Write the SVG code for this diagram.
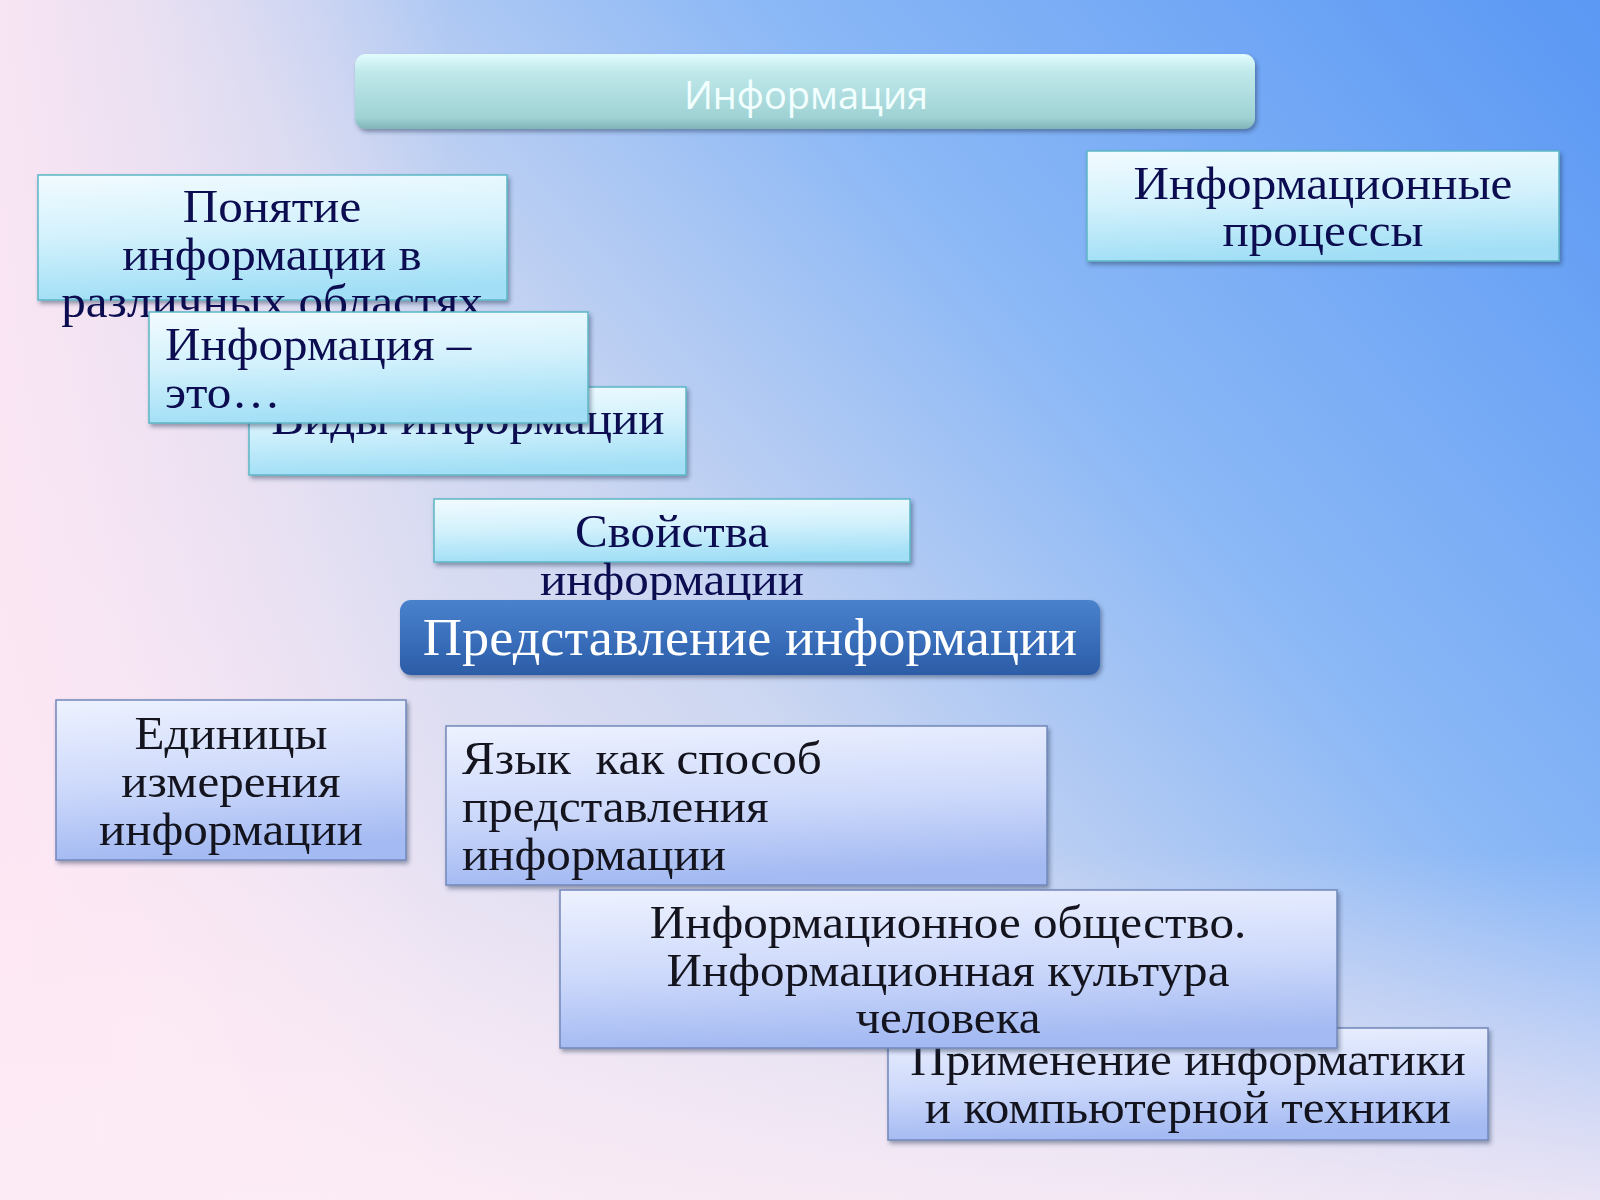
<svg xmlns="http://www.w3.org/2000/svg" width="1600" height="1200" viewBox="0 0 1600 1200">
<defs>
<linearGradient id="bg" gradientUnits="userSpaceOnUse" x1="1600" y1="0" x2="250" y2="1150">
<stop offset="0" stop-color="#5a98f4"/>
<stop offset="0.36" stop-color="#8bb8f6"/>
<stop offset="0.62" stop-color="#cdd7f1"/>
<stop offset="1" stop-color="#fbeaf5"/>
</linearGradient>
<linearGradient id="bgLeft" gradientUnits="userSpaceOnUse" x1="0" y1="0" x2="450" y2="0">
<stop offset="0" stop-color="#fde6f3" stop-opacity="0.85"/>
<stop offset="1" stop-color="#fde6f3" stop-opacity="0"/>
</linearGradient>
<linearGradient id="bgBottom" gradientUnits="userSpaceOnUse" x1="0" y1="1200" x2="0" y2="850">
<stop offset="0" stop-color="#fcecf5" stop-opacity="0.8"/>
<stop offset="1" stop-color="#fcecf5" stop-opacity="0"/>
</linearGradient>
<linearGradient id="cyan" x1="0" y1="0" x2="0.15" y2="1">
<stop offset="0" stop-color="#f2fbff"/>
<stop offset="0.5" stop-color="#d2f1fc"/>
<stop offset="1" stop-color="#a2dff6"/>
</linearGradient>
<linearGradient id="lav" x1="0" y1="0" x2="0.15" y2="1">
<stop offset="0" stop-color="#eef2ff"/>
<stop offset="0.55" stop-color="#cdd9fb"/>
<stop offset="1" stop-color="#a4baf2"/>
</linearGradient>
<linearGradient id="teal" x1="0" y1="0" x2="0" y2="1">
<stop offset="0" stop-color="#e2fcfc"/>
<stop offset="0.25" stop-color="#bfe8ea"/>
<stop offset="0.85" stop-color="#9fd2d4"/>
<stop offset="1" stop-color="#7fb4b8"/>
</linearGradient>
<linearGradient id="blue" x1="0" y1="0" x2="0" y2="1">
<stop offset="0" stop-color="#4a82cc"/>
<stop offset="0.5" stop-color="#3a6fbc"/>
<stop offset="1" stop-color="#2c5ca6"/>
</linearGradient>
<filter id="sh" x="-5%" y="-10%" width="115%" height="130%">
<feDropShadow dx="2" dy="3" stdDeviation="2" flood-color="#223355" flood-opacity="0.45"/>
</filter>
<style>
.cbox{fill:url(#cyan);stroke:#5cb6c6;stroke-width:1.5;filter:url(#sh)}
.lbox{fill:url(#lav);stroke:#7188ba;stroke-width:1.5;filter:url(#sh)}
.t{font-family:"Liberation Serif","DejaVu Serif",serif;font-size:47px}
.tn{fill:#0c0c50}
.tk{fill:#14141e}
.c{text-anchor:middle}
</style>
</defs>

<rect x="0" y="0" width="1600" height="1200" fill="url(#bg)"/>
<rect x="0" y="0" width="1600" height="1200" fill="url(#bgLeft)"/>
<rect x="0" y="0" width="1600" height="1200" fill="url(#bgBottom)"/>

<g id="title">
<rect x="355" y="54" width="900" height="75" rx="11" fill="url(#teal)" filter="url(#sh)"/>
<text x="806" y="109" text-anchor="middle" font-family="'Open Sans','Noto Sans',sans-serif" font-size="38" fill="#f2ffff">Информация</text>
</g>

<g id="node-ponyatie">
<rect class="cbox" x="38" y="175" width="469" height="125"/>
<g transform="translate(272 0) scale(1.045 1) translate(-272 0)">
<text class="t tn c" x="272" y="222">Понятие</text>
<text class="t tn c" x="272" y="270">информации в</text>
<text class="t tn c" x="272" y="317">различных областях</text>
</g>
</g>

<g id="node-vidy">
<rect class="cbox" x="249" y="387" width="437" height="88"/>
<g transform="translate(468 0) scale(1.045 1) translate(-468 0)">
<text class="t tn c" x="468" y="434">Виды информации</text>
</g>
</g>

<g id="node-eto">
<rect class="cbox" x="149" y="312" width="439" height="111"/>
<g transform="translate(165 0) scale(1.045 1) translate(-165 0)">
<text class="t tn" x="165" y="360">Информация –</text>
<text class="t tn" x="165" y="408">это…</text>
</g>
</g>

<g id="node-processy">
<rect class="cbox" x="1087" y="151" width="472" height="110"/>
<g transform="translate(1323 0) scale(1.045 1) translate(-1323 0)">
<text class="t tn c" x="1323" y="199">Информационные</text>
<text class="t tn c" x="1323" y="246">процессы</text>
</g>
</g>

<g id="node-svoistva">
<rect class="cbox" x="434" y="499" width="476" height="63"/>
<g transform="translate(672 0) scale(1.045 1) translate(-672 0)">
<text class="t tn c" x="672" y="547">Свойства</text>
<text class="t tn c" x="672" y="595">информации</text>
</g>
</g>

<g id="node-predstavlenie">
<rect x="400" y="600" width="700" height="75" rx="11" fill="url(#blue)" filter="url(#sh)"/>
<g transform="translate(750 0) scale(1.045 1) translate(-750 0)">
<text x="750" y="655" text-anchor="middle" font-family="'Liberation Serif','DejaVu Serif',serif" font-size="52" fill="#ffffff">Представление информации</text>
</g>
</g>

<g id="node-edinicy">
<rect class="lbox" x="56" y="700" width="350" height="160"/>
<g transform="translate(231 0) scale(1.045 1) translate(-231 0)">
<text class="t tk c" x="231" y="749">Единицы</text>
<text class="t tk c" x="231" y="797">измерения</text>
<text class="t tk c" x="231" y="845">информации</text>
</g>
</g>

<g id="node-yazyk">
<rect class="lbox" x="446" y="726" width="601" height="159"/>
<g transform="translate(462 0) scale(1.045 1) translate(-462 0)">
<text class="t tk" x="462" y="774" xml:space="preserve">Язык  как способ</text>
<text class="t tk" x="462" y="822">представления</text>
<text class="t tk" x="462" y="870">информации</text>
</g>
</g>

<g id="node-primenenie">
<rect class="lbox" x="888" y="1028" width="600" height="112"/>
<g transform="translate(1188 0) scale(1.045 1) translate(-1188 0)">
<text class="t tk c" x="1188" y="1075">Применение информатики</text>
<text class="t tk c" x="1188" y="1123">и компьютерной техники</text>
</g>
</g>

<g id="node-obshchestvo">
<rect class="lbox" x="560" y="890" width="777" height="158"/>
<g transform="translate(948 0) scale(1.045 1) translate(-948 0)">
<text class="t tk c" x="948" y="938">Информационное общество.</text>
<text class="t tk c" x="948" y="986">Информационная культура</text>
<text class="t tk c" x="948" y="1033">человека</text>
</g>
</g>

<g id="connectors"></g>
</svg>
